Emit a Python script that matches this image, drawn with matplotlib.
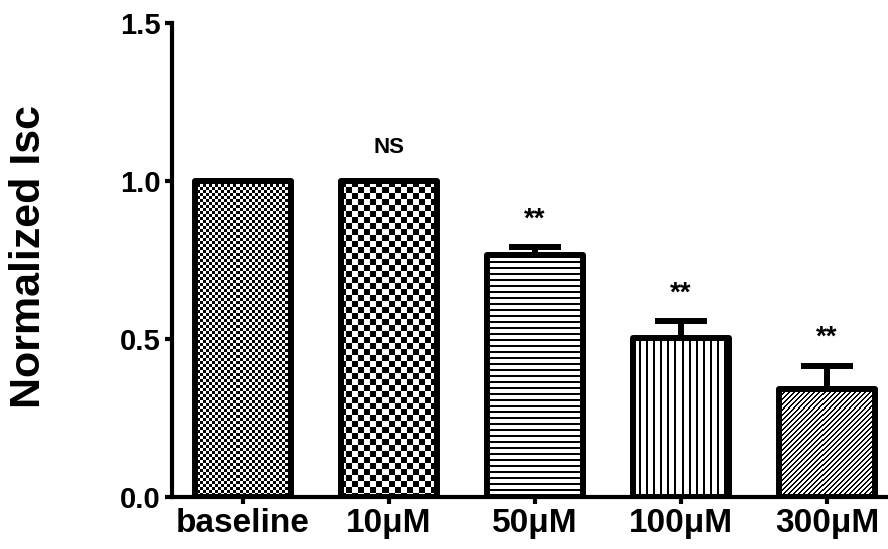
import numpy as np
import matplotlib.pyplot as plt

plt.rcParams['font.family'] = ['Liberation Sans', 'DejaVu Sans']
plt.rcParams['font.weight'] = 'bold'

# group labels, normalized Isc means, upper SEM and significance marks
groups = ['baseline', '10μM', '50μM', '100μM', '300μM']
means = [1.0, 1.0, 0.765, 0.503, 0.343]
sem = [0.0, 0.0, 0.025, 0.055, 0.073]
marks = ['', 'NS', '**', '**', '**']
yticks = [0.0, 0.5, 1.0, 1.5]

# fill pattern used for each bar
fills = ['check3', 'check6', 'hlines', 'vlines', 'diag']


def texture(kind, h, w):
    i, j = np.mgrid[0:h, 0:w]
    if kind == 'check3':
        on = (i // 3 + j // 3) % 2 == 0
    elif kind == 'check6':
        on = (i // 6 + j // 6) % 2 == 0
    elif kind == 'hlines':
        on = i % 6 < 2
    elif kind == 'vlines':
        on = j % 7 < 2
    else:
        on = (i + j) % 5 < 2
    return np.where(on, 0.0, 1.0)


fig = plt.figure(figsize=(8.88, 5.49), dpi=100)
ax = fig.add_axes([172 / 888, 52 / 549, 1 - 172 / 888, (497 - 23) / 549])

x = np.arange(len(groups))
xlim = (-0.486, 4.418)
ylim = (0, 1.5)
ax.set_xlim(xlim)
ax.set_ylim(ylim)

width = 0.66
bars = ax.bar(x, means, width=width, facecolor='none', edgecolor='black',
              linewidth=4.3, joinstyle='round', zorder=3)

# pixel-aligned texture under each bar, clipped to the bar outline
inv = ax.transData.inverted()
for bar, kind in zip(bars, fills):
    x0, y0 = bar.get_x(), bar.get_y()
    x1, y1 = x0 + bar.get_width(), y0 + bar.get_height()
    (px0, py0), (px1, py1) = ax.transData.transform([(x0, y0), (x1, y1)])
    px0, py0, px1, py1 = np.floor(px0), np.floor(py0), np.ceil(px1), np.ceil(py1)
    (dx0, dy0), (dx1, dy1) = inv.transform([(px0, py0), (px1, py1)])
    img = texture(kind, int(py1 - py0), int(px1 - px0))
    im = ax.imshow(img, cmap='gray', vmin=0, vmax=1, extent=(dx0, dx1, dy0, dy1),
                   interpolation='nearest', aspect='auto', zorder=2)
    im.set_clip_path(bar)

ax.errorbar(x, means, yerr=[np.zeros(len(sem)), sem], fmt='none', ecolor='black',
            elinewidth=4.3, capsize=18.5, capthick=4.3, zorder=2.5)

for xi, m, e, lab in zip(x, means, sem, marks):
    if not lab:
        continue
    if lab == 'NS':
        ax.text(xi, m + e + 0.09, lab, ha='center', va='baseline',
                fontsize=16, fontweight='bold')
    else:
        ax.text(xi, m + e + 0.065, lab, ha='center', va='baseline',
                fontsize=20, fontweight='bold')

ax.set_xlim(xlim)
ax.set_ylim(ylim)

ax.spines['top'].set_visible(False)
ax.spines['right'].set_visible(False)
ax.spines['left'].set_linewidth(3)
ax.spines['bottom'].set_linewidth(3)

ax.set_yticks(yticks)
ax.set_yticklabels([f'{t:.1f}' for t in yticks])
ax.set_xticks(x)
ax.set_xticklabels(groups)
ax.tick_params(axis='y', length=5, width=3, pad=3, labelsize=21)
ax.tick_params(axis='x', length=5, width=3, pad=3, labelsize=24)
for lbl in ax.get_xticklabels() + ax.get_yticklabels():
    lbl.set_fontweight('bold')

fig.text(29 / 888, 1 - 256 / 549, 'Normalized Isc', rotation=90, ha='center',
         va='center', fontsize=31, fontweight='bold')

fig.savefig('out.png', dpi=100)
